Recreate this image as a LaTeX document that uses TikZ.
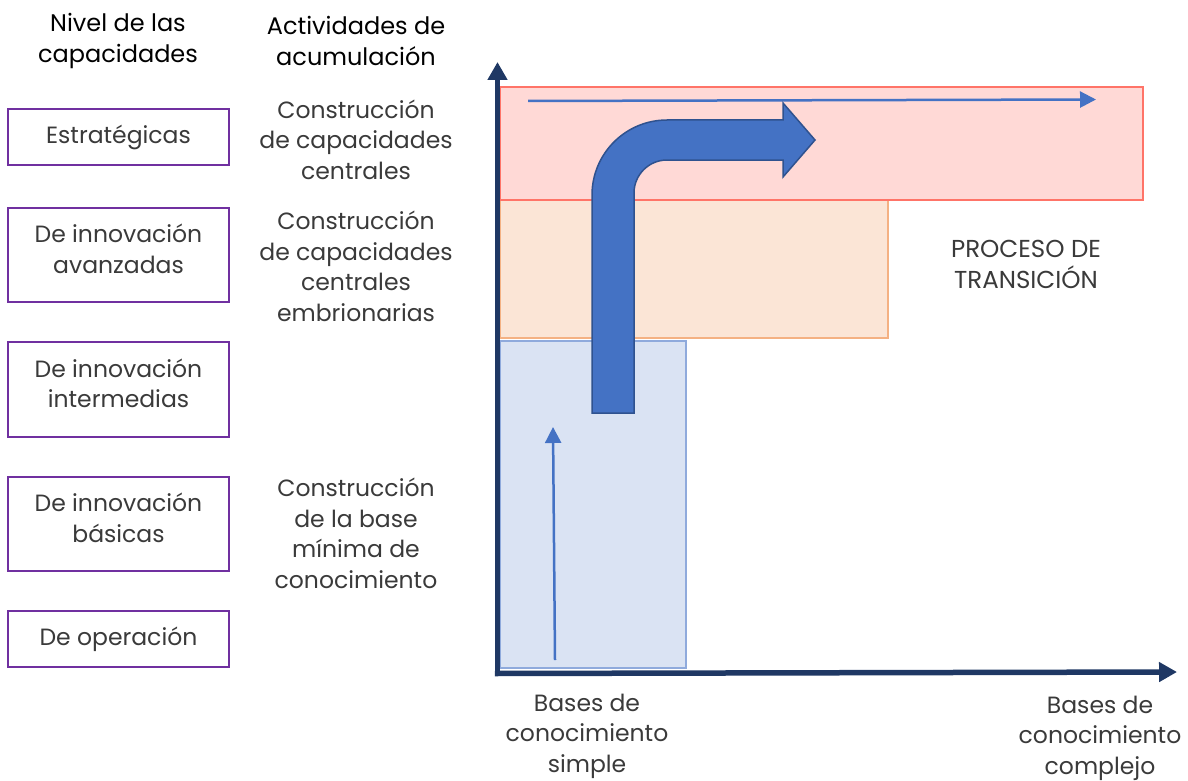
\documentclass[tikz,border=0pt]{standalone}
\usepackage{fontspec}
\setmainfont{Poppins}
\usetikzlibrary{arrows.meta}
\definecolor{purp}{HTML}{7030A0}
\definecolor{navy}{HTML}{1F3864}
\definecolor{bluA}{HTML}{4472C4}
\definecolor{bluB}{HTML}{2F528F}
\definecolor{bfill}{HTML}{DAE3F3}
\definecolor{bdraw}{HTML}{8FAADC}
\definecolor{ofill}{HTML}{FBE5D6}
\definecolor{odraw}{HTML}{F4B183}
\definecolor{rfill}{HTML}{FFD9D6}
\definecolor{rdraw}{HTML}{FF7468}
\definecolor{txt}{HTML}{3A3A3A}
\tikzset{
  lvl/.style={draw=purp, line width=1.8pt, fill=white, minimum width=221pt, inner sep=0pt},
  lbl/.style={align=center, text=txt, inner sep=0pt, font=\fontsize{23.5}{30.5}\selectfont},
  head/.style={align=center, text=black, inner sep=0pt, font=\fontsize{24}{31}\selectfont},
  axis/.style={draw=navy, line width=5.5pt, -{Triangle[length=18pt,width=19pt]}},
  thin/.style={draw=bluA, line width=2.5pt, -{Triangle[length=16pt,width=16pt]}}
}
\begin{document}
\begin{tikzpicture}[x=1pt,y=-1pt]
\useasboundingbox (0,0) rectangle (1188,781);
% headers
\node[head] (h1) at (118,41) {Nivel de las\\capacidades};
\node[head] (h2) at (356,41) {Actividades de\\acumulación};
% level boxes
\node[lvl, minimum height=56pt] (l1) at (118.5,137) {};
\node[lvl, minimum height=94pt] (l2) at (118.5,255) {};
\node[lvl, minimum height=95pt] (l3) at (118.5,389.5) {};
\node[lvl, minimum height=94pt] (l4) at (118.5,524) {};
\node[lvl, minimum height=56pt] (l5) at (118.5,639) {};
\node[lbl] (l1t) at (l1.center) {Estratégicas};
\node[lbl] (l2t) at ([yshift=6pt]l2.center) {De innovación\\avanzadas};
\node[lbl] (l3t) at ([yshift=6pt]l3.center) {De innovación\\intermedias};
\node[lbl] (l4t) at ([yshift=6pt]l4.center) {De innovación\\básicas};
\node[lbl] (l5t) at (l5.center) {De operación};
% activities
\node[lbl] (a1) at (356,139.5) {Construcción\\de capacidades\\centrales};
\node[lbl] (a2) at (356,266.5) {Construcción\\de capacidades\\centrales\\embrionarias};
\node[lbl] (a3) at (356,533.5) {Construcción\\de la base\\mínima de\\conocimiento};
% regions
\draw[draw=bdraw, fill=bfill, line width=1.5pt] (500,341) rectangle (686,668);
\draw[draw=odraw, fill=ofill, line width=1.5pt] (500,200) rectangle (888,338);
\draw[draw=rdraw, fill=rfill, line width=1.8pt] (500,87) rectangle (1143,200);
\node[lbl, font=\fontsize{24.5}{30.5}\selectfont] (pt) at (1026,264.5) {PROCESO DE\\TRANSICIÓN};
% thin arrows
\coordinate (t1s) at (555,660);
\coordinate (t1e) at (553,427);
\coordinate (t2s) at (528,101);
\coordinate (t2e) at (1096,99.5);
\draw[thin] (t1s) -- (t1e);
\draw[thin] (t2s) -- (t2e);
% big bent arrow
\draw[fill=bluA, draw=bluB, line width=1.5pt, line join=miter]
  (592,413) -- (592,195) .. controls (592,153.6) and (625.6,120) .. (667,120)
  -- (783,120) -- (783,103) -- (815,140) -- (783,177) -- (783,160) -- (667,160)
  .. controls (648.8,160) and (634,174.8) .. (634,193) -- (634,413) -- cycle;
% axes
\coordinate (o) at (497.5,673.5);
\coordinate (yt) at (497.5,62);
\coordinate (xt) at (1177,672);
\draw[axis] ([yshift=2.75pt]o) -- (yt);
\draw[axis] ([xshift=-2.75pt]o) -- (xt);
% axis labels
\node[lbl] (b1) at (587,736) {Bases de\\conocimiento\\simple};
\node[lbl] (b2) at (1100,738) {Bases de\\conocimiento\\complejo};
\end{tikzpicture}
\end{document}
